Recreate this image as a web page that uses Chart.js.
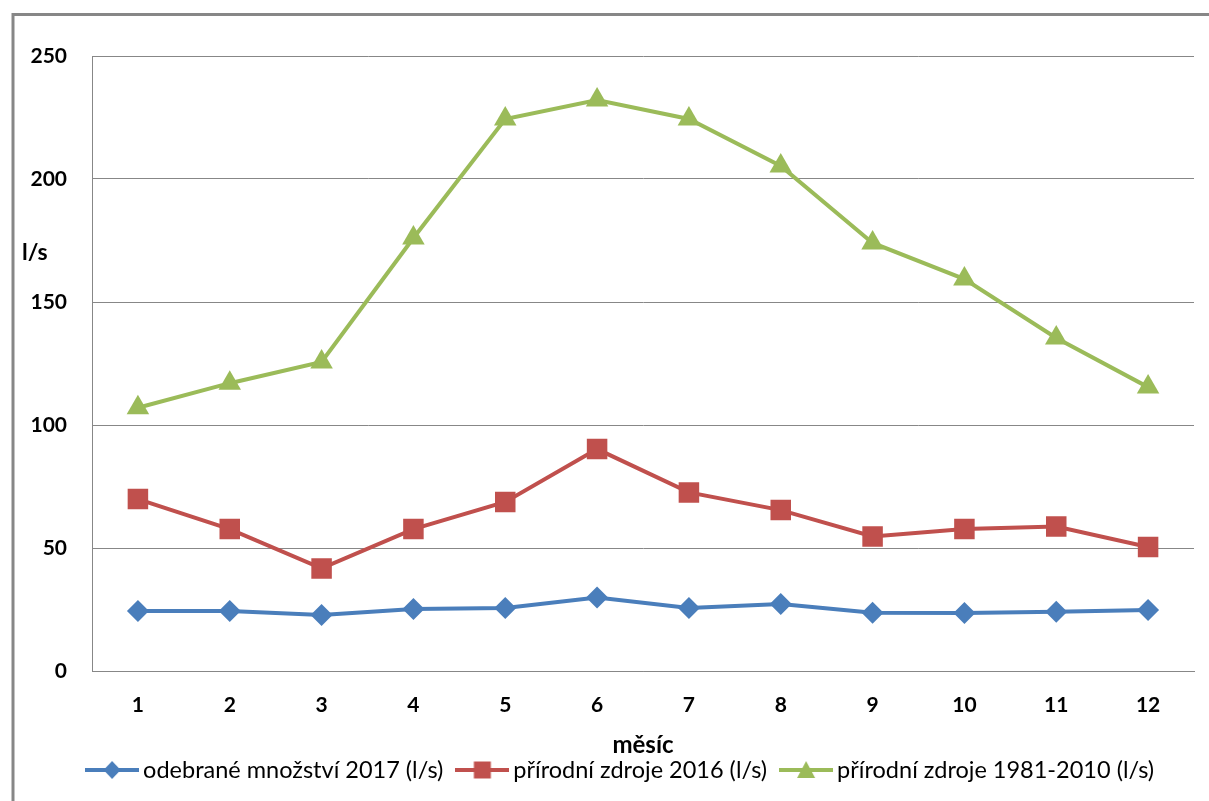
<!DOCTYPE html>
<html>
<head>
<meta charset="utf-8">
<script src="https://cdn.jsdelivr.net/npm/chart.js@4/dist/chart.umd.min.js"></script>
<style>
  html, body { margin: 0; padding: 0; background: #ffffff; }
  #c { display: block; }
</style>
</head>
<body>
<canvas id="c" width="1209" height="801"></canvas>
<script>
// Months on the category axis
const months = ['1', '2', '3', '4', '5', '6', '7', '8', '9', '10', '11', '12'];

// Monthly values in l/s
const odebrane2017 = [24.4, 24.4, 22.8, 25.2, 25.6, 29.9, 25.6, 27.2, 23.7, 23.6, 24.1, 24.8];
const zdroje2016 = [69.9, 57.7, 41.7, 57.7, 68.7, 90.2, 72.6, 65.4, 54.7, 57.7, 58.7, 50.4];
const zdroje1981_2010 = [107, 117, 125.6, 176, 224.4, 232.1, 224.4, 205.3, 174, 159.3, 135.4, 115.4];

// Series names and y-axis ticks
const seriesNames = ['odebrané množství 2017 (l/s)', 'přírodní zdroje 2016 (l/s)', 'přírodní zdroje 1981-2010 (l/s)'];
const yTicks = [0, 50, 100, 150, 200, 250];

const BLUE = '#4A7EBB';
const RED = '#C0504D';
const GREEN = '#9BBB59';
const GRID = '#878787';
const FONT = 'Lato, "Open Sans", sans-serif';

// Legend swatch: a short line with the series marker in the middle
function swatch(color, shape) {
  const cv = document.createElement('canvas');
  cv.width = 54; cv.height = 22;
  const c = cv.getContext('2d');
  const cy = 11;
  c.strokeStyle = color; c.lineWidth = 4;
  c.beginPath(); c.moveTo(0, cy); c.lineTo(54, cy); c.stroke();
  c.fillStyle = color;
  c.beginPath();
  if (shape === 'diamond') {
    c.moveTo(27, cy - 9); c.lineTo(35.5, cy); c.lineTo(27, cy + 9); c.lineTo(18.5, cy);
  } else if (shape === 'square') {
    c.rect(18.5, cy - 8.5, 17, 17);
  } else {
    c.moveTo(27, cy - 9); c.lineTo(36, cy + 8); c.lineTo(18, cy + 8);
  }
  c.closePath(); c.fill();
  return cv;
}
const swatches = [swatch(BLUE, 'diamond'), swatch(RED, 'square'), swatch(GREEN, 'triangle')];

// Frame around the chart, the horizontal "l/s" axis caption, legend placement
const framePlugin = {
  id: 'frame',
  afterLayout(chart) {
    chart.legend.left += 19;
    chart.legend.right += 19;
  },
  beforeDraw(chart) {
    const ctx = chart.ctx;
    ctx.save();
    ctx.fillStyle = '#ffffff';
    ctx.fillRect(0, 0, chart.width, chart.height);
    ctx.strokeStyle = GRID;
    ctx.lineWidth = 3;
    ctx.beginPath();
    ctx.moveTo(13, chart.height);
    ctx.lineTo(13, 14.5);
    ctx.lineTo(chart.width, 14.5);
    ctx.stroke();
    ctx.restore();
  },
  afterDraw(chart) {
    const ctx = chart.ctx;
    ctx.save();
    ctx.fillStyle = '#000000';
    ctx.font = 'bold 23px ' + FONT;
    ctx.textAlign = 'left';
    ctx.textBaseline = 'middle';
    ctx.fillText('l/s', 22, 253);
    ctx.restore();
  }
};

new Chart(document.getElementById('c'), {
  type: 'line',
  data: {
    labels: months,
    datasets: [
      {
        label: seriesNames[0], data: odebrane2017,
        borderColor: BLUE, backgroundColor: BLUE, borderWidth: 4,
        pointStyle: 'rectRot', pointRadius: 11, pointBackgroundColor: BLUE,
        pointBorderColor: BLUE, pointBorderWidth: 0, tension: 0
      },
      {
        label: seriesNames[1], data: zdroje2016,
        borderColor: RED, backgroundColor: RED, borderWidth: 4,
        pointStyle: 'rect', pointRadius: 14.5, pointBackgroundColor: RED,
        pointBorderColor: RED, pointBorderWidth: 0, tension: 0
      },
      {
        label: seriesNames[2], data: zdroje1981_2010,
        borderColor: GREEN, backgroundColor: GREEN, borderWidth: 4,
        pointStyle: 'triangle', pointRadius: 13, pointBackgroundColor: GREEN,
        pointBorderColor: GREEN, pointBorderWidth: 0, tension: 0
      }
    ]
  },
  options: {
    responsive: false,
    animation: false,
    devicePixelRatio: 1,
    layout: { padding: { left: 15, right: 15, top: 56, bottom: 9.25 } },
    scales: {
      x: {
        offset: true,
        grid: { display: false, drawTicks: false },
        border: { display: true, color: GRID, width: 1 },
        ticks: {
          color: '#000000', padding: 23.5,
          font: { family: FONT, size: 21, weight: 'bold', lineHeight: 1 }
        },
        title: {
          display: true, text: 'měsíc', color: '#000000',
          font: { family: FONT, size: 24, weight: 'bold', lineHeight: 1 },
          padding: { top: 0, bottom: -18.5 }
        },
        afterFit(scale) { scale.height = 67.5; }
      },
      y: {
        min: 0, max: 250,
        afterBuildTicks(scale) { scale.ticks = yTicks.map(v => ({ value: v })); },
        grid: { color: GRID, lineWidth: 1, drawTicks: false },
        border: { display: true, color: GRID, width: 1 },
        ticks: {
          color: '#000000', padding: 25,
          font: { family: FONT, size: 21, weight: 'bold', lineHeight: 1 }
        },
        afterFit(scale) { scale.width = 77; }
      }
    },
    plugins: {
      legend: {
        position: 'bottom',
        labels: {
          usePointStyle: true,
          pointStyleWidth: 38.5,
          padding: 19.75,
          color: '#000000',
          font: { family: FONT, size: 23.5 },
          generateLabels(chart) {
            const items = Chart.defaults.plugins.legend.labels.generateLabels(chart);
            items.forEach((it, i) => { it.pointStyle = swatches[i]; });
            return items;
          }
        }
      },
      tooltip: { enabled: false },
      title: { display: false }
    }
  },
  plugins: [framePlugin]
});
</script>
</body>
</html>
